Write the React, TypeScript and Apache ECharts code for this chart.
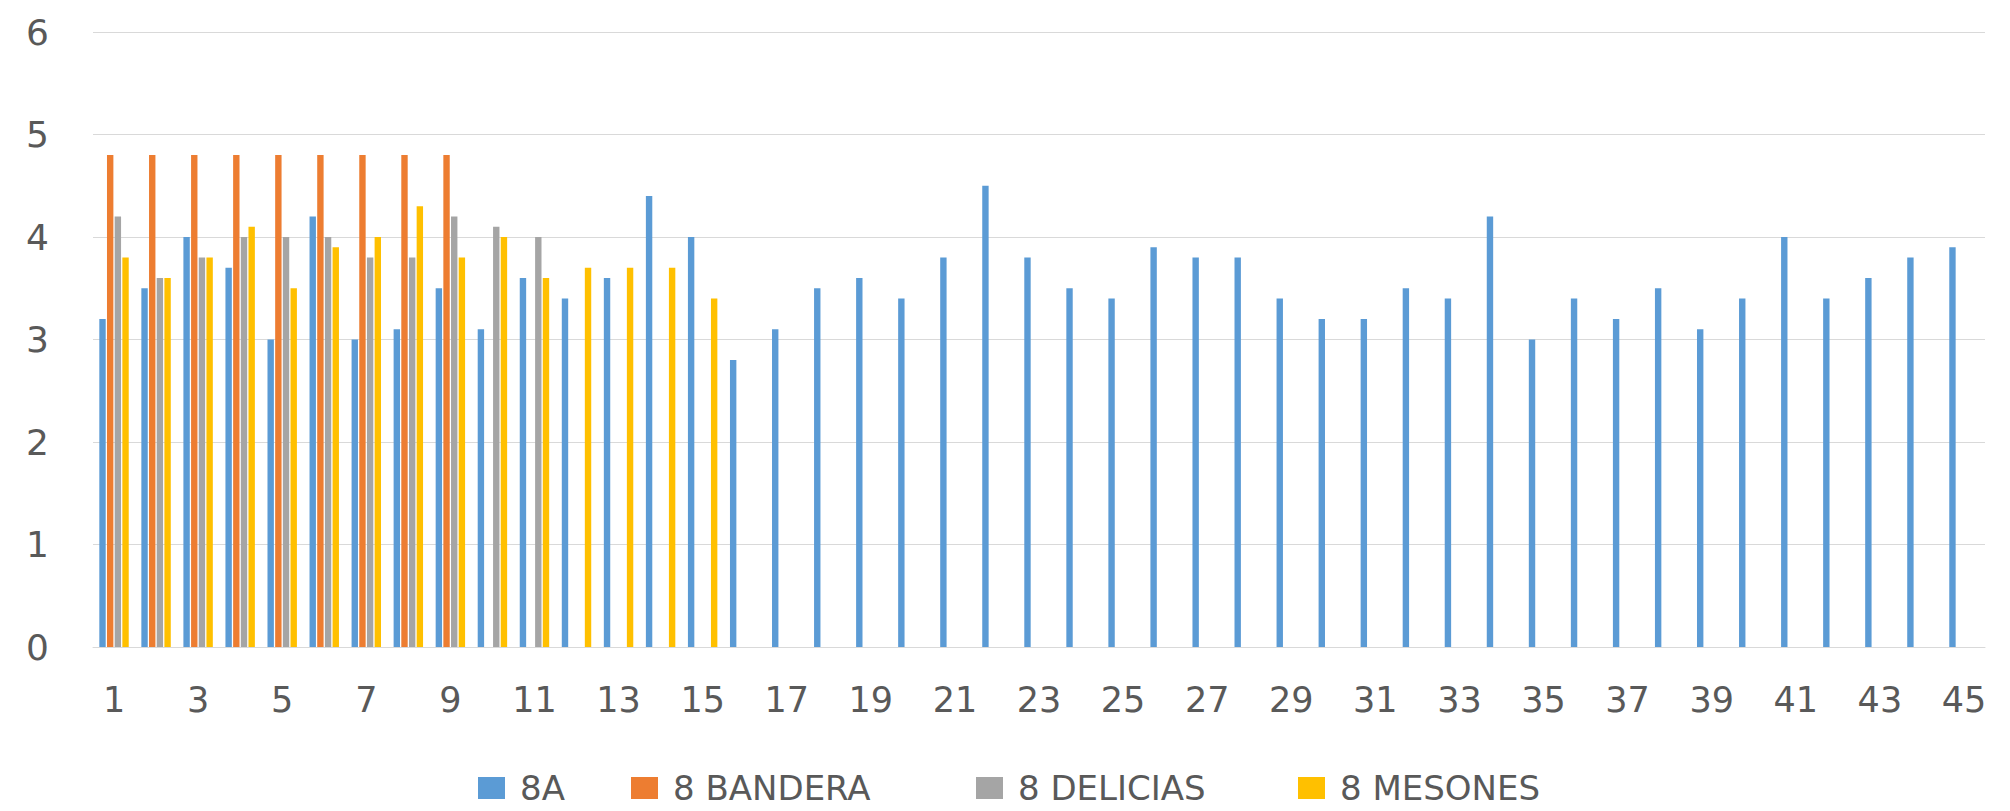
import React, { useEffect, useRef } from "react";
import * as echarts from "echarts";

const categories: string[] = Array.from({ length: 45 }, (_, i) => String(i + 1));

const seriesNames = ["8A", "8 BANDERA", "8 DELICIAS", "8 MESONES"];
const seriesColors = ["#5B9BD5", "#ED7D31", "#A5A5A5", "#FFC000"];

const values8A = [
  3.2, 3.5, 4.0, 3.7, 3.0, 4.2, 3.0, 3.1, 3.5, 3.1,
  3.6, 3.4, 3.6, 4.4, 4.0, 2.8, 3.1, 3.5, 3.6, 3.4,
  3.8, 4.5, 3.8, 3.5, 3.4, 3.9, 3.8, 3.8, 3.4, 3.2,
  3.2, 3.5, 3.4, 4.2, 3.0, 3.4, 3.2, 3.5, 3.1, 3.4,
  4.0, 3.4, 3.6, 3.8, 3.9,
];
const valuesBandera = [4.8, 4.8, 4.8, 4.8, 4.8, 4.8, 4.8, 4.8, 4.8];
const valuesDelicias = [4.2, 3.6, 3.8, 4.0, 4.0, 4.0, 3.8, 3.8, 4.2, 4.1, 4.0];
const valuesMesones = [3.8, 3.6, 3.8, 4.1, 3.5, 3.9, 4.0, 4.3, 3.8, 4.0, 3.6, 3.7, 3.7, 3.7, 3.4];

const yTicks = [0, 1, 2, 3, 4, 5, 6];

// legend item left positions
const legendLefts = [473, 626, 971, 1293];

const FONT = "DejaVu Sans";
const TEXT_COLOR = "#595959";

function pad(arr: number[]): (number | null)[] {
  return categories.map((_, i) => (i < arr.length ? arr[i] : null));
}

export default function App() {
  const ref = useRef<HTMLDivElement>(null);

  useEffect(() => {
    if (!ref.current) return;
    const chart = echarts.init(ref.current, undefined, { renderer: "svg" });
    const allValues = [values8A, valuesBandera, valuesDelicias, valuesMesones];
    chart.setOption({
      animation: false,
      backgroundColor: "#ffffff",
      grid: { left: 93, right: 25, top: 32, bottom: 164, containLabel: false },
      legend: seriesNames.map((name, i) => ({
        data: [name],
        left: legendLefts[i],
        top: 766,
        padding: 5,
        icon: "rect",
        itemWidth: 27,
        itemHeight: 22,
        itemGap: 0,
        textStyle: { fontFamily: FONT, fontSize: 34, color: TEXT_COLOR, padding: [0, 0, 0, 10] },
      })),
      xAxis: {
        type: "category",
        data: categories,
        axisLine: { show: true, lineStyle: { color: "#D9D9D9", width: 1 } },
        axisTick: { show: false },
        axisLabel: {
          interval: 1,
          margin: 35,
          fontFamily: FONT,
          fontSize: 35,
          color: TEXT_COLOR,
        },
      },
      yAxis: {
        type: "value",
        min: yTicks[0],
        max: yTicks[yTicks.length - 1],
        interval: 1,
        axisLine: { show: false },
        axisTick: { show: false },
        splitLine: { lineStyle: { color: "#D9D9D9", width: 1 } },
        axisLabel: {
          margin: 44,
          fontFamily: FONT,
          fontSize: 36,
          color: TEXT_COLOR,
        },
      },
      series: seriesNames.map((name, i) => ({
        name,
        type: "bar",
        data: pad(allValues[i]),
        itemStyle: { color: seriesColors[i] },
        barGap: "20%",
        barCategoryGap: "30%",
      })),
    });
    return () => chart.dispose();
  }, []);

  return (
    <div
      ref={ref}
      style={{ position: "fixed", left: 0, top: 0, width: 2010, height: 811, background: "#fff" }}
    />
  );
}
